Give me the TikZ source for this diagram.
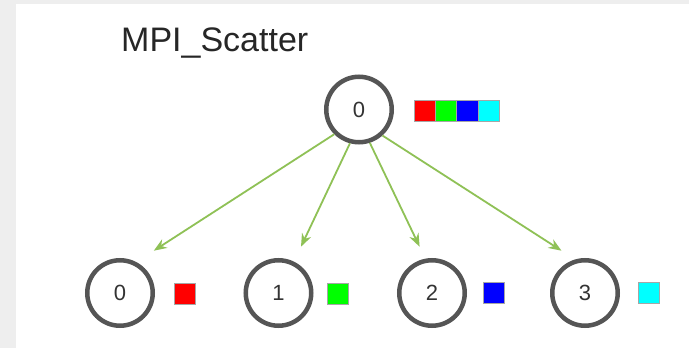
\documentclass[tikz,border=0pt]{standalone}
\usepackage{fontspec}
\setmainfont{Liberation Sans}
\usetikzlibrary{arrows.meta}
\definecolor{bggray}{HTML}{EEEEEE}
\definecolor{circgray}{HTML}{555555}
\definecolor{arrgreen}{HTML}{8FC156}
\definecolor{cred}{HTML}{FF0000}
\definecolor{cgreen}{HTML}{00FF00}
\definecolor{cblue}{HTML}{0000FF}
\definecolor{ccyan}{HTML}{00FFFF}
\tikzset{
  proc/.style={circle, draw=circgray, line width=4.5pt, minimum size=65.5pt, inner sep=0pt,
    font=\fontsize{22}{22}\selectfont, text=black!80},
  cell/.style={draw=gray!70, line width=0.6pt, minimum width=21.3pt, minimum height=21pt, inner sep=0pt},
  flow/.style={draw=arrgreen, line width=1.8pt, -{Stealth[length=13pt,width=10pt]}},
  title/.style={anchor=base west, inner sep=0pt, font=\fontsize{34}{34}\selectfont, text=black!85}
}
\begin{document}
\begin{tikzpicture}[x=1pt,y=-1pt]
\useasboundingbox (0,0) rectangle (689,348);
\fill[bggray] (0,0) rectangle (689,348);
\fill[white] (16,4) rectangle (689,348);
\node[title] (ttl) at (121,52) {MPI\_Scatter};
\node[proc] (top) at (359,109.5) {0};
\node[cell, fill=cred]   (s0) at (424.6,110.5) {};
\node[cell, fill=cgreen] (s1) at (445.9,110.5) {};
\node[cell, fill=cblue]  (s2) at (467.2,110.5) {};
\node[cell, fill=ccyan]  (s3) at (488.5,110.5) {};
\node[proc] (p0) at (120,293) {0};
\node[proc] (p1) at (278.5,293) {1};
\node[proc] (p2) at (432,293) {2};
\node[proc] (p3) at (585,293) {3};
\node[cell, fill=cred]   (r0) at (184.5,294) {};
\node[cell, fill=cgreen] (r1) at (337.5,293.5) {};
\node[cell, fill=cblue]  (r2) at (493.5,292.5) {};
\node[cell, fill=ccyan]  (r3) at (648.5,292.5) {};
\coordinate (t0) at (153.8,250.7);
\coordinate (t1) at (301,246.7);
\coordinate (t2) at (419.6,246.7);
\coordinate (t3) at (561.5,250.7);
\draw[flow] (top.225) -- (t0);
\draw[flow] (top.255) -- (t1);
\draw[flow] (top.288) -- (t2);
\draw[flow] (top.312) -- (t3);
\end{tikzpicture}
\end{document}
